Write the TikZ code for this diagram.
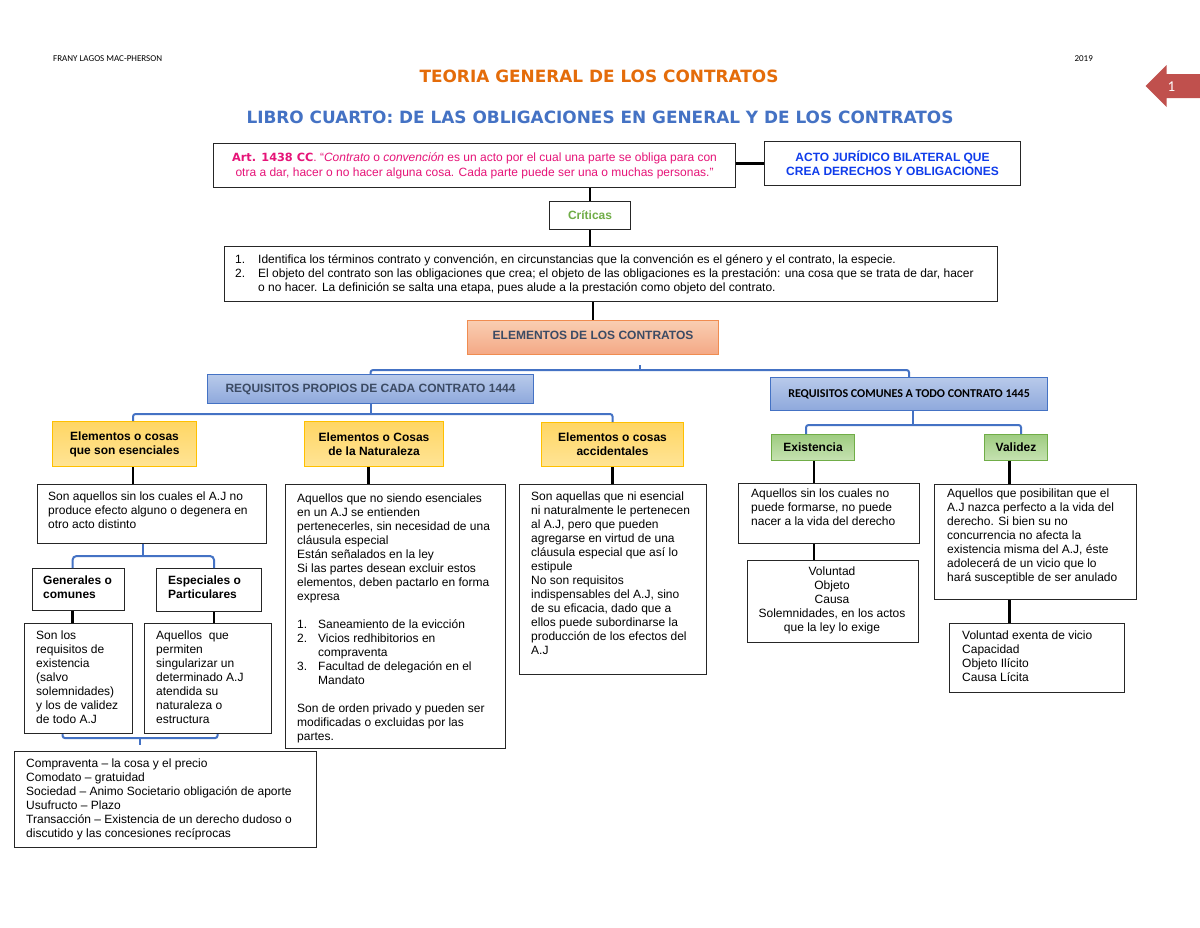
\documentclass[tikz,border=0pt]{standalone}
\usepackage{fontspec}
\setmainfont{Liberation Sans}
\newfontfamily\dejavu{DejaVu Sans}
\newfontfamily\carlito{Carlito}
\usetikzlibrary{calc}
\definecolor{ttlorange}{RGB}{228,108,10}
\definecolor{ttlblue}{RGB}{68,114,196}
\definecolor{artpink}{RGB}{230,20,120}
\definecolor{actoblue}{RGB}{15,60,235}
\definecolor{critgreen}{RGB}{112,173,71}
\definecolor{elemtop}{RGB}{249,206,178}
\definecolor{elembot}{RGB}{244,168,133}
\definecolor{elemborder}{RGB}{240,140,80}
\definecolor{reqtop}{RGB}{184,202,234}
\definecolor{reqbot}{RGB}{142,168,220}
\definecolor{reqborder}{RGB}{68,114,196}
\definecolor{reqtext}{RGB}{60,75,100}
\definecolor{yeltop}{RGB}{255,214,100}
\definecolor{yelbot}{RGB}{255,228,150}
\definecolor{yelborder}{RGB}{255,192,0}
\definecolor{grntop}{RGB}{158,204,128}
\definecolor{grnbot}{RGB}{198,226,178}
\definecolor{grnborder}{RGB}{112,173,71}
\definecolor{braceblue}{RGB}{68,114,196}
\definecolor{arrowred}{RGB}{192,80,77}
\newcommand\bx[6][]{\node[#1, minimum width={#4-#2}, minimum height={#5-#3}] (#6) at (#2,#3) {};}
\newcommand\fl[1]{\multicolumn{2}{@{}l@{}}{#1}}
\begin{document}
\begin{tikzpicture}[x=1pt,y=-1pt,
  box/.style={draw=black!85, line width=1.1pt, inner sep=0pt, anchor=north west},
  plain/.style={box, fill=white},
  conn/.style={draw=black, line width=2.6pt},
  bracket/.style={draw=braceblue, line width=2pt, rounded corners=2.5pt},
  txt/.style={inner sep=0pt, anchor=north west, align=left, font=\fontsize{12}{14}\selectfont, execute at begin node=\strut},
  tabt/.style={inner sep=0pt, anchor=north west, font=\fontsize{12}{14}\selectfont},
  lbl/.style={inner sep=0pt, align=center, font=\bfseries\fontsize{12}{14}\selectfont},
  elemst/.style={box, draw=elemborder, top color=elemtop, bottom color=elembot},
  reqst/.style={box, draw=reqborder, top color=reqtop, bottom color=reqbot},
  yelst/.style={box, draw=yelborder, top color=yeltop, bottom color=yelbot},
  grnst/.style={box, draw=grnborder, top color=grntop, bottom color=grnbot},
]
\fill[white] (0,0) rectangle (1200,927);
\useasboundingbox (0,0) rectangle (1200,927);

% header
\node[anchor=west, inner sep=0pt, font=\carlito\fontsize{9}{10}\selectfont] (author) at (53,59) {FRANY LAGOS MAC-PHERSON};
\node[anchor=east, inner sep=0pt, font=\carlito\fontsize{9}{10}\selectfont] (year) at (1093,59) {2019};
\node[inner sep=0pt, font=\dejavu\bfseries\fontsize{16.9}{18}\selectfont, text=ttlorange] (title) at (599,76) {TEORIA GENERAL DE LOS CONTRATOS};
\node[inner sep=0pt, font=\dejavu\bfseries\fontsize{16.9}{18}\selectfont, text=ttlblue] (subtitle) at (600,117) {LIBRO CUARTO: DE LAS OBLIGACIONES EN GENERAL Y DE LOS CONTRATOS};
\fill[arrowred] (1145.5,86) -- (1166.5,65) -- (1166.5,74) -- (1200,74) -- (1200,98) -- (1166.5,98) -- (1166.5,107) -- cycle;
\node[inner sep=0pt, text=white, font=\carlito\fontsize{15}{16}\selectfont] (pagenum) at (1171.5,87) {1};

% boxes
\bx[plain]{213}{143}{735}{187}{art}
\bx[plain]{764}{141}{1020}{185}{acto}
\bx[plain]{549}{201}{630}{229}{crit}
\bx[plain]{224}{246}{997}{301}{list}
\bx[elemst]{467}{320}{718}{354}{elem}
\bx[reqst]{207}{374}{533}{403}{reqp}
\bx[reqst]{770}{377}{1047}{410}{reqc}
\bx[yelst]{52}{421}{196}{466}{esen}
\bx[yelst]{304}{421}{443}{466}{natu}
\bx[yelst]{541}{422}{683}{466}{acci}
\bx[grnst]{771}{434}{854}{460}{exis}
\bx[grnst]{984}{434}{1047}{460}{vali}
\bx[plain]{37}{484}{266}{543}{sonaq}
\bx[plain]{32}{568}{124}{610}{gen}
\bx[plain]{156}{568}{261}{611}{esp}
\bx[plain]{24}{623}{132}{733}{sonlos}
\bx[plain]{144}{623}{271}{733}{aqperm}
\bx[plain]{14}{751}{316}{847}{compra}
\bx[plain]{285}{484}{505}{748}{natd}
\bx[plain]{519}{484}{706}{674}{accd}
\bx[plain]{738}{483}{919}{543}{exisd}
\bx[plain]{747}{560}{918}{642}{volu}
\bx[plain]{934}{484}{1136}{599}{valid}
\bx[plain]{949}{623}{1124}{692}{volex}

% box texts
\node[inner sep=0pt, align=center, text=artpink, font=\fontsize{12}{15}\selectfont] (art-t) at (art.center)
 {{\dejavu\bfseries\fontsize{11.3}{15}\selectfont Art. 1438 CC}. “\textit{Contrato} o \textit{convención} es un acto por el cual una parte se obliga para con\\otra a dar, hacer o no hacer alguna cosa. Cada parte puede ser una o muchas personas.”};
\node[lbl, text=actoblue] (acto-t) at (acto.center) {ACTO JURÍDICO BILATERAL QUE\\CREA DERECHOS Y OBLIGACIONES};
\node[lbl, text=critgreen] (crit-t) at (crit.center) {Críticas};
\node[tabt] (list-t) at (235,253) {\begin{tabular}[t]{@{}p{23pt}@{}l@{}}
1. & Identifica los términos contrato y convención, en circunstancias que la convención es el género y el contrato, la especie.\\
2. & El objeto del contrato son las obligaciones que crea; el objeto de las obligaciones es la prestación: una cosa que se trata de dar, hacer\\
 & o no hacer. La definición se salta una etapa, pues alude a la prestación como objeto del contrato.
\end{tabular}};
\node[lbl, text=reqtext] (elem-t) at ([yshift=2.5pt]elem.center) {ELEMENTOS DE LOS CONTRATOS};
\node[lbl, text=reqtext] (reqp-t) at (reqp.center) {REQUISITOS PROPIOS DE CADA CONTRATO 1444};
\node[lbl, font=\carlito\bfseries\fontsize{12}{14}\selectfont] (reqc-t) at (reqc.center) {REQUISITOS COMUNES A TODO CONTRATO 1445};
\node[lbl] (esen-t) at (esen.center) {Elementos o cosas\\que son esenciales};
\node[lbl] (natu-t) at (natu.center) {Elementos o Cosas\\de la Naturaleza};
\node[lbl] (acci-t) at (acci.center) {Elementos o cosas\\accidentales};
\node[lbl] (exis-t) at (exis.center) {Existencia};
\node[lbl] (vali-t) at (vali.center) {Validez};

\node[txt] (sonaq-t) at (48,492) {Son aquellos sin los cuales el A.J no\\produce efecto alguno o degenera en\\otro acto distinto};
\node[txt, font=\bfseries\fontsize{12}{14}\selectfont] (gen-t) at (43,576) {Generales o\\comunes};
\node[txt, font=\bfseries\fontsize{12}{14}\selectfont] (esp-t) at (168,576) {Especiales o\\Particulares};
\node[txt] (sonlos-t) at (36,631) {Son los\\requisitos de\\existencia\\(salvo\\solemnidades)\\y los de validez\\de todo A.J};
\node[txt] (aqperm-t) at (156,631) {Aquellos\ \ que\\permiten\\singularizar un\\determinado A.J\\atendida su\\naturaleza o\\estructura};
\node[txt] (compra-t) at (26,759) {Compraventa – la cosa y el precio\\Comodato – gratuidad\\Sociedad – Animo Societario obligación de aporte\\Usufructo – Plazo\\Transacción – Existencia de un derecho dudoso o\\discutido y las concesiones recíprocas};
\node[tabt] (natd-t) at (297,492) {\begin{tabular}[t]{@{}p{21pt}@{}l@{}}
\fl{Aquellos que no siendo esenciales}\\
\fl{en un A.J se entienden}\\
\fl{pertenecerles, sin necesidad de una}\\
\fl{cláusula especial}\\
\fl{Están señalados en la ley}\\
\fl{Si las partes desean excluir estos}\\
\fl{elementos, deben pactarlo en forma}\\
\fl{expresa}\\
 & \\
1. & Saneamiento de la evicción\\
2. & Vicios redhibitorios en\\
 & compraventa\\
3. & Facultad de delegación en el\\
 & Mandato\\
 & \\
\fl{Son de orden privado y pueden ser}\\
\fl{modificadas o excluidas por las}\\
\fl{partes.}
\end{tabular}};
\node[txt] (accd-t) at (531,492) {Son aquellas que ni esencial\\ni naturalmente le pertenecen\\al A.J, pero que pueden\\agregarse en virtud de una\\cláusula especial que así lo\\estipule\\No son requisitos\\indispensables del A.J, sino\\de su eficacia, dado que a\\ellos puede subordinarse la\\producción de los efectos del\\A.J};
\node[txt] (exisd-t) at (751,489) {Aquellos sin los cuales no\\puede formarse, no puede\\nacer a la vida del derecho};
\node[txt, anchor=north, align=center] (volu-t) at (832,567) {Voluntad\\Objeto\\Causa\\Solemnidades, en los actos\\que la ley lo exige};
\node[txt] (valid-t) at (947,489) {Aquellos que posibilitan que el\\A.J nazca perfecto a la vida del\\derecho. Si bien su no\\concurrencia no afecta la\\existencia misma del A.J, éste\\adolecerá de un vicio que lo\\hará susceptible de ser anulado};
\node[txt] (volex-t) at (962,631) {Voluntad exenta de vicio\\Capacidad\\Objeto Ilícito\\Causa Lícita};

% black connectors
\draw[conn] (art.east |- acto.west) -- (acto.west);
\draw[conn] (crit.north |- art.south) -- (crit.north);
\draw[conn] (crit.south) -- (crit.south |- list.north);
\draw[conn] (elem.north |- list.south) -- (elem.north);
\coordinate (c1) at ([xshift=8.5pt]esen.south);
\draw[conn] (c1) -- (c1 |- sonaq.north);
\coordinate (c2) at ([xshift=-6pt]gen.south);
\draw[conn] (c2) -- (c2 |- sonlos.north);
\coordinate (c3) at ([xshift=5pt]esp.south);
\draw[conn] (c3) -- (c3 |- aqperm.north);
\coordinate (c4) at ([xshift=-5.5pt]natu.south);
\draw[conn] (c4) -- (c4 |- natd.north);
\draw[conn] (acci.south) -- (acci.south |- accd.north);
\coordinate (c5) at ([xshift=1pt]exis.south);
\draw[conn] (c5) -- (c5 |- exisd.north);
\draw[conn] (c5 |- exisd.south) -- (c5 |- volu.north);
\coordinate (c6) at ([xshift=-6.5pt]vali.south);
\draw[conn] (c6) -- (c6 |- valid.north);
\draw[conn] (c6 |- valid.south) -- (c6 |- volex.north);

% blue brackets
\draw[bracket] (reqp.north) |- ($(reqc.north)+(0,-7)$) -- (reqc.north);
\coordinate (b1m) at ($(reqp.north)!0.5!(reqc.north)$);
\draw[bracket] (b1m) ++(0,-5.5) -- ++(0,-5);
\draw[bracket] ([xshift=8.5pt]esen.north) -- ++(0,-7) -| (acci.north);
\draw[bracket] (reqp.south) -- ++(0,11);
\draw[bracket] ([xshift=-7pt]exis.north) -- ++(0,-9) -| ([xshift=5pt]vali.north);
\draw[bracket] ([xshift=4pt]reqc.south) -- ++(0,15);
\draw[bracket, rounded corners=4pt] (c2 |- gen.north) -- ++(0,-12) -| (c3 |- esp.north);
\draw[bracket, rounded corners=4pt] ([xshift=-9pt]sonaq.south) -- ++(0,13);
\coordinate (b5l) at ([xshift=-16pt]sonlos.south);
\coordinate (b5r) at ([xshift=9.5pt]aqperm.south);
\draw[bracket] (b5l) -- ++(0,4) -| (b5r);
\coordinate (b5m) at ($(b5l)!0.5!(b5r)$);
\draw[bracket] (b5m) ++(0,4) -- ++(0,7);
\end{tikzpicture}
\end{document}
